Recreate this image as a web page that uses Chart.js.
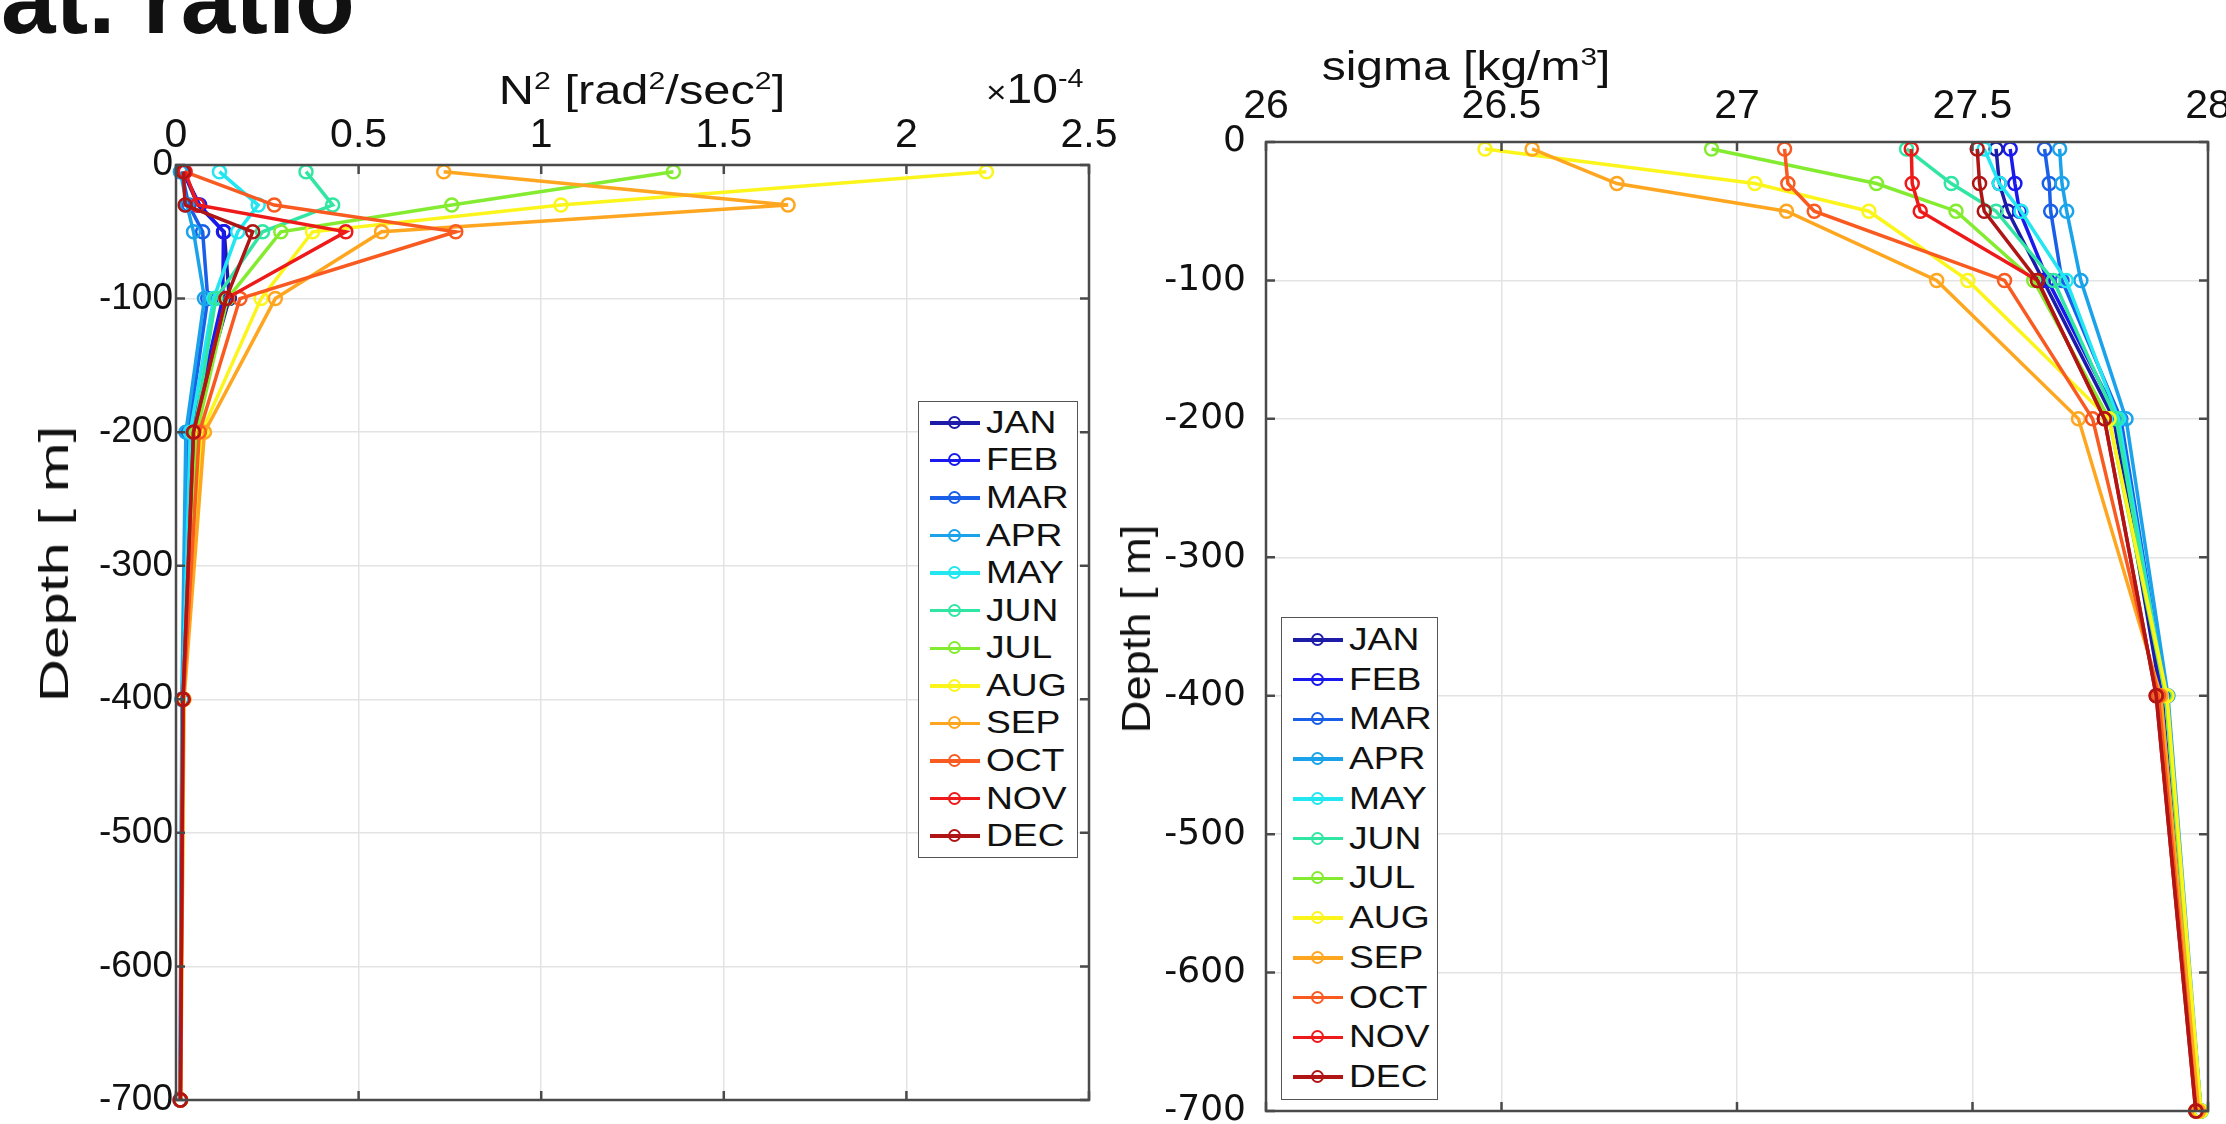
<!DOCTYPE html>
<html>
<head>
<meta charset="utf-8">
<script src="https://cdn.jsdelivr.net/npm/chart.js@4.4.1/dist/chart.umd.min.js"></script>
<style>
body { margin:0; background:#fff; width:2226px; height:1124px; overflow:hidden; position:relative; font-family:'Liberation Sans', Arial, sans-serif; color:#111; }
canvas { position:absolute; top:0; }
#n2Chart { left:0; }
#sigmaChart { left:1113px; }
.lbl { position:absolute; white-space:nowrap; line-height:1; }
sup { font-size:0.62em; line-height:0; vertical-align:0.6em; }
.ylab { font-size:40px; }
.legend { position:absolute; border:1.5px solid #555; background:#fff; box-sizing:border-box; }
.row { display:flex; align-items:center; }
.sw { position:relative; width:50px; height:3.5px; flex:none; }
.sw i { position:absolute; left:50%; top:50%; width:9px; height:9px; margin:-7px 0 0 -7px; border:2.5px solid; border-radius:50%; }
.row span { display:inline-block; font-size:31px; transform:scaleX(1.2); transform-origin:left center; margin-left:6px; }
</style>
</head>
<body>
<div class="lbl" style="right:calc(2226px - 355px); top:-50px; font-size:98px; font-weight:bold; line-height:98px;">Strat. ratio</div>

<canvas id="n2Chart" width="1150" height="1124"></canvas>
<canvas id="sigmaChart" width="1113" height="1124"></canvas>

<div class="lbl" style="left:642px; top:70px; font-size:40px; transform:translateX(-50%) scaleX(1.22);">N<sup>2</sup> [rad<sup>2</sup>/sec<sup>2</sup>]</div>
<div class="lbl" style="left:986px; top:68px; font-size:42px; transform:scaleX(1.1); transform-origin:left;"><span style="font-size:32px">&times;</span>10<sup>-4</sup></div>
<div class="lbl" style="left:1466px; top:46px; font-size:40px; transform:translateX(-50%) scaleX(1.2);">sigma [kg/m<sup>3</sup>]</div>
<div class="lbl ylab" style="left:54px; top:564px; transform:translate(-50%,-50%) rotate(-90deg) scaleX(1.5);">Depth [ m]</div>
<div class="lbl ylab" style="left:1136px; top:629px; transform:translate(-50%,-50%) rotate(-90deg) scaleX(1.13);">Depth [ m]</div>

<div class="legend" id="legN2" style="left:918px; top:401px; width:160px; height:457px;"></div>
<div class="legend" id="legSigma" style="left:1281px; top:617px; width:157px; height:483px;"></div>

<script>
'use strict'
const months = ['JAN', 'FEB', 'MAR', 'APR', 'MAY', 'JUN', 'JUL', 'AUG', 'SEP', 'OCT', 'NOV', 'DEC'];
const colors = ['#1c1ca8', '#1a1aee', '#1a5fe8', '#1aa3ea', '#22e6f0', '#30e6a2',
                '#84ec30', '#fbf51c', '#ffa620', '#f85a20', '#ee1a1a', '#b01515'];
const depth = [-5, -30, -50, -100, -200, -400, -700];

// N^2 in units of 1e-4 rad^2/s^2
const n2Jan = [0.020, 0.060, 0.132, 0.146, 0.043, 0.018, 0.012];
const n2Feb = [0.020, 0.065, 0.130, 0.128, 0.043, 0.018, 0.012];
const n2Mar = [0.015, 0.035, 0.073, 0.087, 0.034, 0.017, 0.011];
const n2Apr = [0.012, 0.030, 0.048, 0.078, 0.027, 0.016, 0.011];
const n2May = [0.119, 0.225, 0.169, 0.103, 0.039, 0.018, 0.012];
const n2Jun = [0.356, 0.429, 0.237, 0.109, 0.050, 0.019, 0.012];
const n2Jul = [1.362, 0.755, 0.287, 0.141, 0.057, 0.020, 0.012];
const n2Aug = [2.219, 1.054, 0.374, 0.233, 0.070, 0.021, 0.013];
const n2Sep = [0.733, 1.676, 0.563, 0.272, 0.078, 0.022, 0.013];
const n2Oct = [0.023, 0.269, 0.766, 0.175, 0.064, 0.020, 0.012];
const n2Nov = [0.025, 0.059, 0.465, 0.137, 0.048, 0.019, 0.012];
const n2Dec = [0.020, 0.025, 0.210, 0.137, 0.048, 0.019, 0.012];

// sigma [kg/m3]
const sigJan = [27.550, 27.557, 27.575, 27.650, 27.800, 27.900, 27.980];
const sigFeb = [27.580, 27.590, 27.600, 27.660, 27.810, 27.905, 27.980];
const sigMar = [27.653, 27.663, 27.666, 27.690, 27.815, 27.910, 27.985];
const sigApr = [27.685, 27.690, 27.700, 27.730, 27.826, 27.915, 27.985];
const sigMay = [27.525, 27.557, 27.603, 27.699, 27.810, 27.910, 27.985];
const sigJun = [27.360, 27.455, 27.550, 27.672, 27.805, 27.910, 27.985];
const sigJul = [26.946, 27.296, 27.465, 27.630, 27.790, 27.910, 27.985];
const sigAug = [26.465, 27.038, 27.280, 27.490, 27.790, 27.913, 27.985];
const sigSep = [26.565, 26.745, 27.105, 27.424, 27.725, 27.900, 27.980];
const sigOct = [27.101, 27.108, 27.164, 27.568, 27.755, 27.895, 27.975];
const sigNov = [27.370, 27.372, 27.389, 27.638, 27.780, 27.890, 27.974];
const sigDec = [27.510, 27.515, 27.525, 27.638, 27.780, 27.890, 27.974];

const n2Series = [n2Jan, n2Feb, n2Mar, n2Apr, n2May, n2Jun, n2Jul, n2Aug, n2Sep, n2Oct, n2Nov, n2Dec];
const sigmaSeries = [sigJan, sigFeb, sigMar, sigApr, sigMay, sigJun, sigJul, sigAug, sigSep, sigOct, sigNov, sigDec];

const makeSets = function (series) {
    return series.map((vals, i) => ({
        label: months[i],
        data: vals.map((v, j) => ({x: v, y: depth[j]})),
        showLine: true,
        borderColor: colors[i],
        backgroundColor: colors[i],
        pointBackgroundColor: 'rgba(0,0,0,0)',
        pointBorderColor: colors[i],
        pointRadius: 6.5,
        pointBorderWidth: 2.5,
        borderWidth: 3.5,
        tension: 0,
        clip: false,
        order: 12 - i
    }));
};

// frame + inward tick marks, like the matlab box
const boxPlugin = {
    id: 'box',
    afterDatasetsDraw(chart) {
        const {ctx, chartArea: a, scales} = chart;
        ctx.save();
        ctx.strokeStyle = '#4a4a4a';
        ctx.lineWidth = 2.5;
        ctx.strokeRect(a.left, a.top, a.right - a.left, a.bottom - a.top);
        ctx.beginPath();
        scales.x.ticks.forEach(t => {
            const p = scales.x.getPixelForValue(t.value);
            ctx.moveTo(p, a.top); ctx.lineTo(p, a.top + 9);
            ctx.moveTo(p, a.bottom); ctx.lineTo(p, a.bottom - 9);
        });
        scales.y.ticks.forEach(t => {
            const p = scales.y.getPixelForValue(t.value);
            ctx.moveTo(a.left, p); ctx.lineTo(a.left + 9, p);
            ctx.moveTo(a.right, p); ctx.lineTo(a.right - 9, p);
        });
        ctx.stroke();
        ctx.restore();
    }
};

const fmt = v => String(Number(v.toFixed(3)));

const chartOptions = function (sets, o) {return {
    type: 'scatter',
    data: {datasets: sets},
    options: {
        responsive: false,
        animation: false,
        events: [],
        layout: {padding: {left: 0, top: 0, right: o.padRight, bottom: o.padBottom}},
        plugins: {legend: {display: false}, tooltip: {enabled: false}},
        scales: {
            x: {
                type: 'linear',
                position: 'top',
                min: o.xmin,
                max: o.xmax,
                ticks: {stepSize: o.xstep, padding: o.xpad, color: '#111', autoSkip: false, maxRotation: 0,
                        callback: fmt, font: {family: 'Liberation Sans', size: o.xfont}},
                grid: {color: '#e3e3e3', lineWidth: 1.5, drawTicks: false},
                border: {display: false},
                afterFit(s) { s.height = o.top; s.paddingLeft = 0; s.paddingRight = 0; }
            },
            y: {
                type: 'linear',
                position: 'left',
                min: -700,
                max: 0,
                ticks: {stepSize: 100, padding: o.ypad, color: '#111', autoSkip: false,
                        callback: fmt, font: {family: o.yfamily, size: o.yfont}},
                grid: {color: '#e3e3e3', lineWidth: 1.5, drawTicks: false},
                border: {display: false},
                afterFit(s) { s.width = o.left; s.paddingTop = 0; s.paddingBottom = 0; }
            }
        }
    },
    plugins: [boxPlugin]
} }

const n2Chart = new Chart(document.getElementById('n2Chart'), chartOptions(makeSets(n2Series), {
    xmin: 0, xmax: 2.5, xstep: 0.5, xfont: 41, xpad: 5, yfont: 37, ypad: 3,
    yfamily: 'Liberation Sans', left: 176, top: 165, padRight: 61, padBottom: 24
}));
const sigmaChart = new Chart(document.getElementById('sigmaChart'), chartOptions(makeSets(sigmaSeries), {
    xmin: 26, xmax: 28, xstep: 0.5, xfont: 41, xpad: 11, yfont: 36, ypad: 20,
    yfamily: 'DejaVu Sans', left: 153, top: 142, padRight: 18, padBottom: 13
}));

//---------------- legends ---------------------//
function buildLegend(id) {
    const box = document.getElementById(id);
    const rowH = (box.clientHeight - 4) / months.length;
    box.style.paddingTop = '2px';
    months.forEach((m, i) => {
        const row = document.createElement('div');
        row.className = 'row';
        row.style.height = rowH + 'px';
        row.style.paddingLeft = '11px';
        row.innerHTML = '<div class="sw" style="background:' + colors[i] + '"><i style="border-color:' + colors[i] + '"></i></div><span>' + m + '</span>';
        box.appendChild(row);
    });
}
buildLegend('legN2');
buildLegend('legSigma');
</script>
</body>
</html>
